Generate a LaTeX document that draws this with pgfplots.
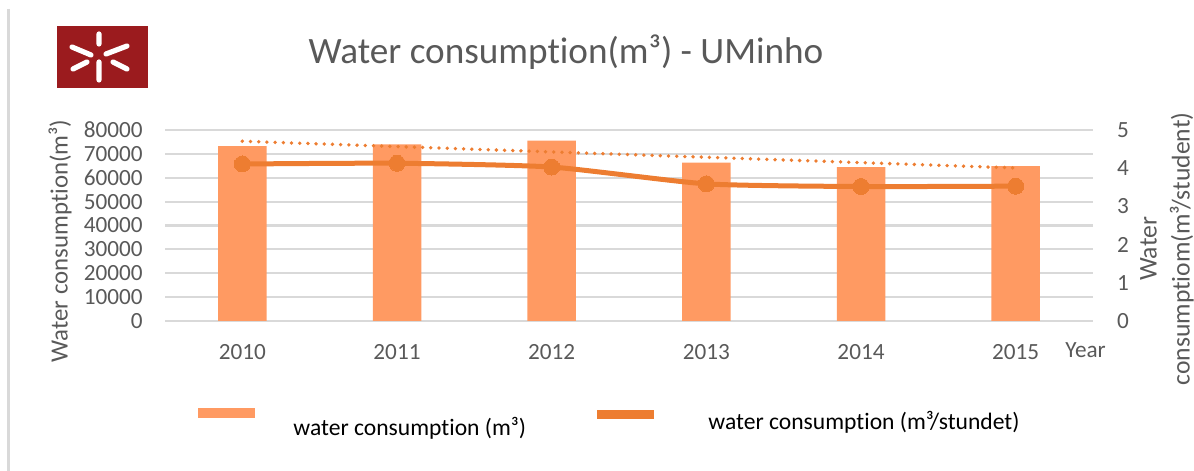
\documentclass[border=0pt]{standalone}
\usepackage{pgfplots}
\pgfplotsset{compat=1.18}
\usepackage{fontspec}
\setmainfont{Carlito}[Ligatures=NoCommon]
\definecolor{barc}{HTML}{FF9A62}
\definecolor{linec}{HTML}{ED7D31}
\definecolor{gridc}{HTML}{D9D9D9}
\definecolor{txt}{HTML}{595959}
\definecolor{logo}{HTML}{9B1B1E}
\newcommand\ticks{\fontsize{11.6}{13}\selectfont}
\begin{document}
\begin{tikzpicture}
\path[use as bounding box] (0,0) rectangle (597pt,235.5pt);
\begin{axis}[
  at={(82.5pt,75pt)}, anchor=south west,
  scale only axis, width=464pt, height=95.5pt,
  xmin=-0.5, xmax=5.5, ymin=0, ymax=80000,
  axis x line*=bottom, axis y line*=left,
  axis line style={draw=none}, major tick length=0pt, tick style={draw=none},
  xtick={0,1,2,3,4,5}, xticklabels={2010,2011,2012,2013,2014,2015},
  ytick={0,10000,20000,30000,40000,50000,60000,70000,80000},
  ymajorgrids, grid style={gridc, line width=1.1pt},
  yticklabel style={font=\ticks, text=txt, anchor=east, inner sep=0pt, xshift=-11pt},
  xticklabel style={font=\ticks, text=txt, anchor=base, inner sep=0pt, yshift=-19.25pt},
  /pgf/number format/1000 sep={}, /pgf/number format/assume math mode=true,
  scaled y ticks=false, clip=false,
]
\addplot[ybar, bar width=24.25pt, fill=barc, draw=none] coordinates {
  (0,73200) (1,74000) (2,75500) (3,66300) (4,64500) (5,64900)};
\addplot[linec, line width=1.9pt, line cap=round, dash pattern=on 0pt off 4.1pt] coordinates {
  (0,75300) (5,64100)};
\end{axis}
\begin{axis}[
  at={(82.5pt,75pt)}, anchor=south west,
  scale only axis, width=464pt, height=95.5pt,
  xmin=-0.5, xmax=5.5, ymin=0, ymax=5,
  axis y line*=right, axis x line=none,
  axis line style={draw=none}, major tick length=0pt, tick style={draw=none},
  xtick=\empty, ytick={0,1,2,3,4,5},
  yticklabel style={font=\ticks, text=txt, anchor=west, inner sep=0pt, xshift=11.8pt},
  /pgf/number format/assume math mode=true, clip=false,
]
\addplot[linec, line width=2.5pt, smooth, tension=0.35, mark=*, mark size=4pt,
  mark options={solid, fill=linec, draw=linec, line width=0pt}] coordinates {
  (0,4.11) (1,4.13) (2,4.03) (3,3.59) (4,3.52) (5,3.53)};
\end{axis}
\begin{scope}[x=0.5pt, y=-0.5pt, shift={(0,235.5pt)}]
  \draw[gridc, line width=1.5pt] (8,9) -- (8,471);
  \fill[logo] (57,26) rectangle (148,88);
  \draw[white, line width=2.6pt, line cap=round]
    (99,34) -- (99,44)
    (99,62) -- (99,80)
    (72,47) -- (91,55)
    (106,54) -- (127,46)
    (73,69) -- (87,62)
    (113,62) -- (127,69);
  \node[anchor=base, inner sep=0pt, font=\fontsize{18.6}{20}\selectfont, text=txt] at (566,64) {Water consumption(m³) - UMinho};
  \node[rotate=90, inner sep=0pt, font=\fontsize{12.4}{14}\selectfont, text=txt] at (60,241) {Water consumption(m³)};
  \node[rotate=90, inner sep=0pt, align=center, font=\fontsize{12.8}{16.5}\selectfont, text=txt] at (1167,249) {Water\\consumptiom(m³/student)};
  \node[anchor=base west, inner sep=0pt, font=\ticks, text=txt] at (1065,358) {Year};
  \fill[barc] (198,408) rectangle (255,418);
  \fill[linec] (597,410) rectangle (654,419);
  \node[anchor=base west, inner sep=0pt, font=\fontsize{11.8}{14}\selectfont] at (293,436) {water consumption (m³)};
  \node[anchor=base west, inner sep=0pt, font=\fontsize{11.8}{14}\selectfont] at (708,430) {water consumption (m³/stundet)};
\end{scope}
\end{tikzpicture}
\end{document}
